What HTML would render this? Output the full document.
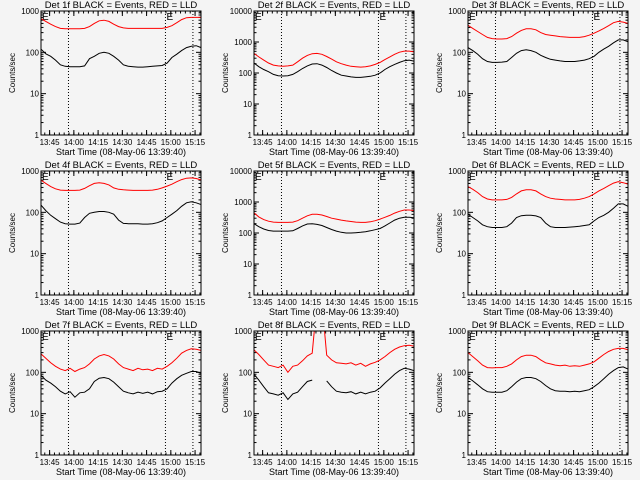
<!DOCTYPE html>
<html><head><meta charset="utf-8">
<style>
html,body{margin:0;padding:0;background:#f4f4f4;}
svg{display:block;}
text{font-family:"Liberation Sans",sans-serif;fill:#000;}
</style></head>
<body>
<svg id="chart" width="640" height="480" viewBox="0 0 640 480" xmlns="http://www.w3.org/2000/svg">
<rect x="0" y="0" width="640" height="480" fill="#f4f4f4"/>
</svg>
<script>
// time in minutes since 13:39:40, sampled every 3 minutes
const times = [0,3,6,9,12,15,18,21,24,27,30,33,36,39,42,45,48,51,54,57,60,63,66,69,72,75,78,81,84,87,90,93,96,99];
const tickLabels = ["13:45","14:00","14:15","14:30","14:45","15:00","15:15"];
const tickMinutes = [5.33,20.33,35.33,50.33,65.33,80.33,95.33];
const dottedMinutes = [17,77,94];
const panelTitles = ["Det 1f","Det 2f","Det 3f","Det 4f","Det 5f","Det 6f","Det 7f","Det 8f","Det 9f"];
const panelTopDecade = [3,4,3,3,4,3,3,3,3];
const red1 = [650,560,480,420,380,370,370,370,370,380,420,500,580,600,560,480,420,390,380,380,380,380,380,380,380,380,400,440,520,620,690,700,700,700];
const black1 = [120,92,80,65,50,46,45,45,45,47,70,80,95,100,95,80,65,50,46,45,44,44,45,46,47,48,55,75,90,110,130,140,145,130];
const red2 = [430,330,260,210,180,170,165,170,180,230,300,370,420,430,400,340,280,230,200,180,165,160,155,160,170,190,220,270,330,400,470,510,510,480];
const black2 = [210,160,130,110,90,82,80,82,90,110,140,170,195,200,180,150,120,100,85,80,75,72,72,75,78,85,100,130,160,190,220,250,260,240];
const red3 = [450,380,320,270,230,215,210,210,215,240,290,340,370,370,350,300,270,260,250,240,235,230,230,230,240,260,290,330,380,440,520,560,540,500];
const black3 = [130,110,90,70,60,57,57,58,60,75,95,110,115,110,100,85,75,68,65,62,60,60,60,62,65,70,80,100,120,140,170,200,200,180];
const red4 = [600,500,420,370,345,340,340,340,345,380,440,500,520,500,460,390,360,350,345,340,340,340,340,345,360,390,430,480,550,620,670,680,660,610];
const black4 = [150,110,85,70,58,53,52,52,55,75,95,100,105,105,100,90,65,54,53,53,53,52,52,53,56,62,75,90,110,140,170,180,170,155];
const red5 = [450,330,270,240,225,220,220,220,225,250,300,360,400,400,380,340,300,280,260,245,235,225,220,220,230,250,280,320,370,440,500,550,550,530];
const black5 = [200,160,135,120,115,115,115,115,118,140,170,195,200,190,175,150,130,115,105,100,100,102,105,110,118,128,140,170,210,260,300,320,320,310];
const red6 = [420,360,300,240,210,200,200,200,205,230,280,330,350,350,330,280,240,220,210,205,200,200,200,205,220,240,280,330,380,440,510,550,520,480];
const black6 = [90,75,62,50,45,43,43,43,45,55,75,83,85,85,82,75,55,45,43,43,43,44,45,46,48,50,62,75,85,100,125,160,160,140];
const red7 = [280,220,170,140,120,110,125,105,120,130,160,210,250,270,250,210,160,130,120,110,125,115,120,110,125,120,140,170,220,290,340,370,360,340];
const black7 = [85,65,55,45,35,30,34,25,32,33,40,60,72,75,70,58,45,35,32,30,33,31,33,30,34,35,40,55,70,85,95,105,105,95];
const red8 = [350,270,200,150,140,130,150,100,140,150,190,250,290,5000,5000,260,200,170,165,160,170,150,165,140,160,175,200,240,300,360,410,440,450,430];
const black8 = [90,65,45,32,30,28,32,22,30,33,45,60,65,null,null,62,45,35,33,32,34,30,33,30,33,35,42,55,70,90,110,125,120,110];
const red9 = [300,240,190,150,130,128,130,130,140,160,200,240,260,260,240,200,170,160,150,145,150,140,145,140,150,160,180,220,270,320,360,380,380,350];
const black9 = [75,62,50,40,34,33,33,33,36,45,58,70,75,75,70,60,48,40,36,35,35,34,35,34,36,38,45,55,70,90,110,130,135,120];
const redSeries = [red1,red2,red3,red4,red5,red6,red7,red8,red9];
const blackSeries = [black1,black2,black3,black4,black5,black6,black7,black8,black9];

const NS = "http://www.w3.org/2000/svg";
const svg = document.getElementById("chart");
const colX = [41,254,468], rowY = [11,171,331];
const PW = 160, PH = 124, TMAX = 99;
function mk(tag, attrs, parent){
  const e = document.createElementNS(NS, tag);
  for (const k in attrs) e.setAttribute(k, attrs[k]);
  (parent||svg).appendChild(e);
  return e;
}
for (let p = 0; p < 9; p++) {
  const x0 = colX[p % 3], y0 = rowY[Math.floor(p / 3)];
  const top = panelTopDecade[p];
  const xs = t => x0 + t / TMAX * PW;
  const ys = v => y0 + PH - Math.log10(v) / top * PH;
  const g = mk("g", {});
  
  
  const clipId = "clip" + p;
  const cp = mk("clipPath", {id: clipId}, g);
  mk("rect", {x: x0, y: y0, width: PW, height: PH}, cp);
  const tt = mk("text", {x: x0 + PW / 2, y: y0 - 3, "text-anchor": "middle", "font-size": "9.5"}, g);
  tt.textContent = panelTitles[p] + " BLACK = Events, RED = LLD";
  
  
  const yl = mk("text", {x: 0, y: 0, "text-anchor": "middle", "font-size": "8", transform: "translate(" + (x0 - 26) + "," + (y0 + PH / 2) + ") rotate(-90)"}, g);
  yl.textContent = "Counts/sec";
  
  
  for (let d = 0; d <= top; d++) {
    const y = ys(Math.pow(10, d));
    mk("line", {x1: x0, x2: x0 + 5, y1: y, y2: y, stroke: "#000", "stroke-width": 1}, g);
    mk("line", {x1: x0 + PW, x2: x0 + PW - 5, y1: y, y2: y, stroke: "#000", "stroke-width": 1}, g);
    const lb = mk("text", {x: x0 - 2, y: y + 3, "text-anchor": "end", "font-size": "8"}, g);
    lb.textContent = String(Math.pow(10, d));
    
    
    if (d < top) for (let m = 2; m <= 9; m++) {
      const ym = ys(m * Math.pow(10, d));
      mk("line", {x1: x0, x2: x0 + 2.5, y1: ym, y2: ym, stroke: "#000", "stroke-width": 1}, g);
      mk("line", {x1: x0 + PW, x2: x0 + PW - 2.5, y1: ym, y2: ym, stroke: "#000", "stroke-width": 1}, g);
    }
  }
  for (let i = 0; i < tickMinutes.length; i++) {
    const x = xs(tickMinutes[i]);
    mk("line", {x1: x, x2: x, y1: y0 + PH, y2: y0 + PH - 5, stroke: "#000", "stroke-width": 1}, g);
    mk("line", {x1: x, x2: x, y1: y0, y2: y0 + 5, stroke: "#000", "stroke-width": 1}, g);
    const lb = mk("text", {x: x, y: y0 + PH + 10, "text-anchor": "middle", "font-size": "8"}, g);
    lb.textContent = tickLabels[i];
    
    
  }
  for (let t = 2.33; t < TMAX; t += 3) {
    const x = xs(t);
    mk("line", {x1: x, x2: x, y1: y0 + PH, y2: y0 + PH - 2.5, stroke: "#000", "stroke-width": 1}, g);
    mk("line", {x1: x, x2: x, y1: y0, y2: y0 + 2.5, stroke: "#000", "stroke-width": 1}, g);
  }
  const xt = mk("text", {x: x0 + PW / 2, y: y0 + PH + 20, "text-anchor": "middle", "font-size": "9"}, g);
  xt.textContent = "Start Time (08-May-06 13:39:40)";
  
  
  dottedMinutes.forEach(t => {
    const x = xs(t);
    const dl = mk("line", {x1: x, x2: x, y1: y0, y2: y0 + PH, stroke: "#000", "stroke-width": 1, "stroke-dasharray": "1,2"}, g);
    
    
  });
  [0, dottedMinutes[1]].forEach(t => {
    const em = mk("text", {x: xs(t) + 1, y: y0 + 9, "font-size": "10"}, g);
    em.textContent = "E";
    
    
  });
  function drawSeries(vals, color, name) {
    let d = "", pen = false;
    for (let i = 0; i < times.length; i++) {
      if (vals[i] === null) { pen = false; continue; }
      d += (pen ? "L" : "M") + xs(times[i]).toFixed(1) + "," + ys(vals[i]).toFixed(1);
      pen = true;
    }
    const pth = mk("path", {d: d, fill: "none", stroke: color, "stroke-width": 1, "clip-path": "url(#" + clipId + ")"}, g);
    
    
  }
  drawSeries(redSeries[p], "#ff0000", "lld-series");
  drawSeries(blackSeries[p], "#000000", "events-series");
  const bx = mk("rect", {x: x0, y: y0, width: PW, height: PH, fill: "none", stroke: "#000", "stroke-width": 1}, g);
  
  
}
</script>
</body></html>
